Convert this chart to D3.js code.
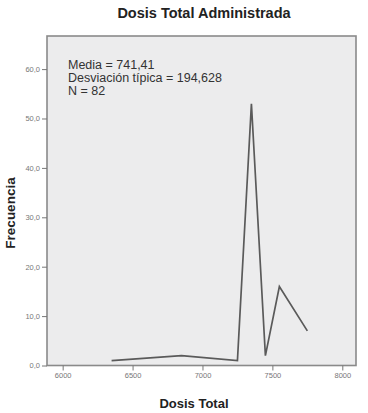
<!DOCTYPE html>
<html>
<head>
<meta charset="utf-8">
<script src="https://cdn.jsdelivr.net/npm/d3@7"></script>
<style>
  body { margin: 0; background: #fff; }
  svg { display: block; font-family: "Liberation Sans", Arial, sans-serif; }
</style>
</head>
<body>
<div id="chart"></div>
<script>
// frequency polygon data
const dosis = [6350, 6850, 7250, 7350, 7450, 7550, 7750];
const frecuencia = [1, 2, 1, 53, 2, 16, 7];
const xTicks = [6000, 6500, 7000, 7500, 8000];
const yTicks = [0, 10, 20, 30, 40, 50, 60];
const statLines = ["Media = 741,41", "Desviación típica = 194,628", "N = 82"];

const width = 368, height = 413;
const plot = { left: 47, top: 36, right: 356, bottom: 365.5 };

const svg = d3.select("#chart").append("svg")
  .attr("width", width)
  .attr("height", height);

const x = d3.scaleLinear().domain([5888, 8098]).range([plot.left, plot.right]);
const y = d3.scaleLinear().domain([0, 66.7]).range([plot.bottom, plot.top]);

// plot background + frame
svg.append("rect")
  .attr("x", plot.left).attr("y", plot.top)
  .attr("width", plot.right - plot.left)
  .attr("height", plot.bottom - plot.top)
  .attr("fill", "#ececed")
  .attr("stroke", "#8a8a8a")
  .attr("stroke-width", 1.6);

// title
svg.append("text")
  .attr("x", 204).attr("y", 18)
  .attr("text-anchor", "middle")
  .attr("font-size", 14.5)
  .attr("font-weight", "bold")
  .attr("fill", "#222")
  .text("Dosis Total Administrada");

// y axis
const yAxis = svg.append("g")
  .attr("transform", `translate(${plot.left},0)`)
  .call(d3.axisLeft(y).tickValues(yTicks).tickSize(5).tickPadding(2)
    .tickFormat(d => d3.format(".1f")(d).replace(".", ",")));
yAxis.select(".domain").remove();
yAxis.selectAll("line").attr("stroke", "#777");
yAxis.selectAll("text").attr("font-size", 7.5).attr("fill", "#777")
  .attr("font-family", "Liberation Sans, Arial, sans-serif");

// x axis
const xAxis = svg.append("g")
  .attr("transform", `translate(0,${plot.bottom})`)
  .call(d3.axisBottom(x).tickValues(xTicks).tickSize(5).tickPadding(2)
    .tickFormat(d3.format("d")));
xAxis.select(".domain").remove();
xAxis.selectAll("line").attr("stroke", "#777");
xAxis.selectAll("text").attr("font-size", 7.5).attr("fill", "#777")
  .attr("font-family", "Liberation Sans, Arial, sans-serif");

// axis titles
svg.append("text")
  .attr("transform", "translate(15,213) rotate(-90)")
  .attr("text-anchor", "middle")
  .attr("font-size", 13.5)
  .attr("font-weight", "bold")
  .attr("fill", "#222")
  .text("Frecuencia");

svg.append("text")
  .attr("x", 194).attr("y", 408)
  .attr("text-anchor", "middle")
  .attr("font-size", 13)
  .attr("font-weight", "bold")
  .attr("fill", "#222")
  .text("Dosis Total");

// the polygon line
const pts = dosis.map((d, i) => [d, frecuencia[i]]);
svg.append("path")
  .datum(pts)
  .attr("fill", "none")
  .attr("stroke", "#5a5a5a")
  .attr("stroke-width", 1.7)
  .attr("stroke-linejoin", "miter")
  .attr("d", d3.line().x(d => x(d[0])).y(d => y(d[1])));

// stats box text
svg.append("g").selectAll("text")
  .data(statLines)
  .enter().append("text")
  .attr("x", 68)
  .attr("y", (d, i) => 69 + i * 13)
  .attr("font-size", 12.5)
  .attr("fill", "#333")
  .text(d => d);
</script>
</body>
</html>
